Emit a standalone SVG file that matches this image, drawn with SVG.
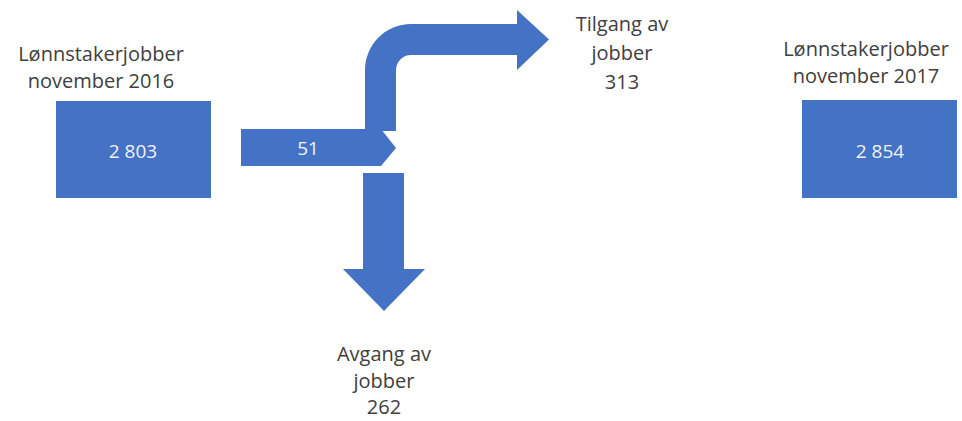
<svg xmlns="http://www.w3.org/2000/svg" width="962" height="421" viewBox="0 0 962 421">
<style>
.shape{fill:#4472C4;}
.lbl{font-family:"Open Sans","Liberation Sans",sans-serif;font-size:20px;fill:#404040;text-anchor:middle;}
.val{font-family:"Open Sans","Liberation Sans",sans-serif;font-size:19px;fill:#F2F2F2;text-anchor:middle;}
</style>
<rect width="962" height="421" fill="#FFFFFF"/>
<g id="node-2016">
<text class="lbl" x="101" y="61">Lønnstakerjobber</text>
<text class="lbl" x="101" y="88">november 2016</text>
<rect class="shape" x="56" y="101" width="155" height="97"/>
<text class="val" x="133" y="158">2 803</text>
</g>
<g id="node-2017">
<text class="lbl" x="866" y="56">Lønnstakerjobber</text>
<text class="lbl" x="866" y="83">november 2017</text>
<rect class="shape" x="802" y="100" width="155" height="98"/>
<text class="val" x="880" y="158">2 854</text>
</g>
<g id="node-tilgang">
<text class="lbl" x="622" y="31">Tilgang av</text>
<text class="lbl" x="622" y="60">jobber</text>
<text class="lbl" x="622" y="89">313</text>
</g>
<g id="node-avgang">
<text class="lbl" x="384" y="361">Avgang av</text>
<text class="lbl" x="384" y="388">jobber</text>
<text class="lbl" x="384" y="414">262</text>
</g>
<g id="connectors">
<path class="shape" d="M365,131 L365,70 A46,46 0 0 1 411,24 L517,24 L517,10 L549,39.5 L517,70 L517,55 L411,55 A15,15 0 0 0 396,70 L396,131 Z"/>
<path class="shape" d="M363,173 L404,173 L404,269 L425,269 L384,311 L343,269 L363,269 Z"/>
<path class="shape" d="M241,129 L381,129 L396,148 L381,166 L241,166 Z"/>
<text class="val" x="308" y="155">51</text>
</g>
</svg>
